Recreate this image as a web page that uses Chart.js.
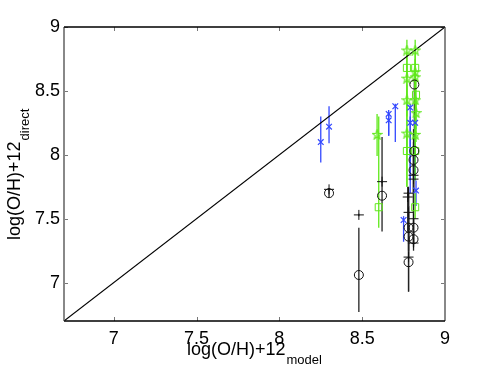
<!DOCTYPE html>
<html>
<head>
<meta charset="utf-8">
<script src="https://cdn.jsdelivr.net/npm/chart.js@4"></script>
<style>
html,body{margin:0;padding:0;background:#fff;}
canvas{display:block;}
</style>
</head>
<body>
<canvas id="c" width="491" height="369"></canvas>
<script>
// axis range and tick labels
const axisMin = 6.7, axisMax = 9;
const tickValues = [7, 7.5, 8, 8.5, 9];

// Black circles: x, y, error low, error high
const circX  = [8.30, 8.48, 8.62, 8.78, 8.78, 8.78, 8.815, 8.815, 8.81, 8.81, 8.81, 8.81];
const circY  = [7.70, 7.06, 7.68, 7.16, 7.43, 7.36, 8.55, 8.03, 7.96, 7.88, 7.43, 7.34];
const circLo = [7.67, 6.77, 7.40, 6.93, 7.25, 7.20, 8.00, 7.85, 7.70, 7.60, 7.30, 7.25];
const circHi = [7.74, 7.43, 8.14, 7.41, 7.60, 7.55, 8.58, 8.20, 8.20, 8.10, 7.60, 7.50];

// Black plus markers
const plusX  = [8.30, 8.48, 8.62, 8.78, 8.775, 8.78, 8.81, 8.81, 8.81, 8.81, 8.78];
const plusY  = [7.73, 7.53, 7.79, 7.70, 7.67, 7.55, 7.84, 7.81, 7.50, 7.31, 7.20];
const plusLo = [7.72, 7.52, 7.78, 7.40, 7.40, 7.30, 7.60, 7.60, 7.30, 7.28, 6.93];
const plusHi = [7.74, 7.54, 7.80, 7.75, 7.75, 7.70, 8.00, 8.00, 7.60, 7.40, 7.40];

// Blue x markers
const xX  = [8.25, 8.30, 8.66, 8.66, 8.70, 8.75, 8.79, 8.79, 8.82, 8.825];
const xY  = [8.10, 8.22, 8.32, 8.27, 8.38, 7.49, 8.37, 8.25, 8.25, 7.72];
const xLo = [7.94, 8.09, 8.15, 8.15, 8.10, 7.32, 7.80, 7.70, 7.80, 7.60];
const xHi = [8.30, 8.38, 8.35, 8.33, 8.40, 7.52, 8.40, 8.30, 8.30, 7.80];

// Green stars
const starX  = [8.59, 8.77, 8.77, 8.77, 8.77, 8.82, 8.82, 8.82, 8.82, 8.825, 8.82];
const starY  = [8.16, 8.82, 8.60, 8.43, 8.17, 8.82, 8.65, 8.61, 8.43, 8.33, 8.16];
const starLo = [7.99, 8.60, 8.30, 8.00, 7.75, 8.60, 8.40, 8.40, 8.20, 8.10, 8.00];
const starHi = [8.32, 8.90, 8.70, 8.55, 8.40, 8.90, 8.75, 8.70, 8.55, 8.45, 8.30];

// Green squares
const sqX  = [8.60, 8.77, 8.77, 8.82, 8.825, 8.82, 8.82];
const sqY  = [7.59, 8.68, 8.03, 8.68, 8.47, 8.03, 7.59];
const sqLo = [7.43, 8.40, 7.75, 8.50, 8.20, 7.80, 7.50];
const sqHi = [8.30, 8.80, 8.20, 8.80, 8.60, 8.20, 7.70];

const BLACK = '#111111', BLUE = '#3348ff', GREEN = '#5fe81a';

function pts(xs, ys, lo, hi){ return xs.map((x,i)=>({x:x, y:ys[i], lo:lo[i], hi:hi[i]})); }

function starImage(color){
  const s = 11, c = document.createElement('canvas');
  c.width = s; c.height = s;
  const g = c.getContext('2d');
  g.strokeStyle = color; g.lineWidth = 1.1;
  g.beginPath();
  const cx = s/2, cy = s/2+0.5, R = 5, r = 2;
  for (let i=0;i<10;i++){
    const a = -Math.PI/2 + i*Math.PI/5;
    const rr = i%2===0 ? R : r;
    const px = cx + rr*Math.cos(a), py = cy + rr*Math.sin(a);
    if(i===0) g.moveTo(px,py); else g.lineTo(px,py);
  }
  g.closePath(); g.stroke();
  return c;
}

const errPlugin = {
  id:'errbars',
  beforeDatasetsDraw(chart){
    const ctx = chart.ctx, xs = chart.scales.x, ys = chart.scales.y;
    ctx.save();
    chart.data.datasets.forEach(ds=>{
      if(!ds.errColor) return;
      ctx.strokeStyle = ds.errColor; ctx.lineWidth = 1.3;
      ds.data.forEach(p=>{
        const px = xs.getPixelForValue(p.x);
        ctx.beginPath();
        ctx.moveTo(px, ys.getPixelForValue(p.lo));
        ctx.lineTo(px, ys.getPixelForValue(p.hi));
        ctx.stroke();
      });
    });
    ctx.restore();
  },
  afterDraw(chart){
    const ctx = chart.ctx, a = chart.chartArea, xs = chart.scales.x, ys = chart.scales.y;
    ctx.save();
    // ticks inward
    ctx.strokeStyle = '#777'; ctx.lineWidth = 1;
    tickValues.forEach(v=>{
      const px = Math.round(xs.getPixelForValue(v))+0.5;
      ctx.beginPath(); ctx.moveTo(px,a.bottom); ctx.lineTo(px,a.bottom-4);
      ctx.moveTo(px,a.top); ctx.lineTo(px,a.top+4); ctx.stroke();
      const py = Math.round(ys.getPixelForValue(v))+0.5;
      ctx.beginPath(); ctx.moveTo(a.left,py); ctx.lineTo(a.left+4,py);
      ctx.moveTo(a.right,py); ctx.lineTo(a.right-4,py); ctx.stroke();
    });
    // frame
    ctx.strokeStyle = '#888'; ctx.lineWidth = 2;
    ctx.beginPath(); ctx.moveTo(a.left,a.top); ctx.lineTo(a.left,a.bottom);
    ctx.moveTo(a.right,a.top); ctx.lineTo(a.right,a.bottom); ctx.stroke();
    ctx.strokeStyle = '#000'; ctx.lineWidth = 1.3;
    ctx.beginPath(); ctx.moveTo(a.left,a.top); ctx.lineTo(a.right,a.top);
    ctx.moveTo(a.left,a.bottom); ctx.lineTo(a.right,a.bottom); ctx.stroke();
    // axis titles
    ctx.fillStyle = '#000';
    ctx.textBaseline = 'alphabetic'; ctx.textAlign = 'left';
    ctx.font = '18px "Liberation Sans", Arial, sans-serif';
    const main = 'log(O/H)+12';
    const w = ctx.measureText(main).width;
    ctx.fillText(main, 187, 355);
    ctx.font = '13px "Liberation Sans", Arial, sans-serif';
    ctx.fillText('model', 187 + w + 1, 364);
    ctx.save();
    ctx.translate(20, 240); ctx.rotate(-Math.PI/2);
    ctx.font = '18px "Liberation Sans", Arial, sans-serif';
    ctx.fillText(main, 0, 0);
    ctx.font = '13px "Liberation Sans", Arial, sans-serif';
    ctx.fillText('direct', w + 1, 9);
    ctx.restore();
    ctx.restore();
  }
};

new Chart(document.getElementById('c'), {
  type:'scatter',
  data:{datasets:[
    {type:'line', data:[{x:axisMin,y:axisMin},{x:axisMax,y:axisMax}], borderColor:'#000', borderWidth:1.1, pointRadius:0, order:10},
    {data:pts(circX,circY,circLo,circHi), errColor:'#222', pointStyle:'circle', radius:4.5, borderColor:BLACK, backgroundColor:'rgba(0,0,0,0)', borderWidth:1},
    {data:pts(plusX,plusY,plusLo,plusHi), errColor:'#222', pointStyle:'cross', radius:5, borderColor:BLACK, borderWidth:1},
    {data:pts(xX,xY,xLo,xHi), errColor:BLUE, pointStyle:'crossRot', radius:4, borderColor:BLUE, borderWidth:1.2},
    {data:pts(starX,starY,starLo,starHi), errColor:GREEN, pointStyle:starImage(GREEN), radius:5, borderColor:GREEN},
    {data:pts(sqX,sqY,sqLo,sqHi), errColor:GREEN, pointStyle:'rect', radius:5, borderColor:GREEN, backgroundColor:'rgba(0,0,0,0)', borderWidth:1}
  ]},
  options:{
    responsive:false, animation:false, devicePixelRatio:1,
    layout:{padding:{left:0, top:27, right:46, bottom:0}},
    plugins:{legend:{display:false}, tooltip:{enabled:false}},
    scales:{
      x:{type:'linear', min:axisMin, max:axisMax,
         afterFit(s){ s.height = 48; },
         afterBuildTicks(s){ s.ticks = tickValues.map(v=>({value:v})); },
         grid:{display:false, drawTicks:false, tickLength:0}, border:{display:false},
         ticks:{color:'#000', padding:7, font:{family:'"Liberation Sans", Arial, sans-serif', size:18}, callback:v=>String(v)}},
      y:{type:'linear', min:axisMin, max:axisMax,
         afterFit(s){ s.width = 64; },
         afterBuildTicks(s){ s.ticks = tickValues.map(v=>({value:v})); },
         grid:{display:false, drawTicks:false, tickLength:0}, border:{display:false},
         ticks:{color:'#000', padding:4, font:{family:'"Liberation Sans", Arial, sans-serif', size:18}, callback:v=>String(v)}}
    }
  },
  plugins:[errPlugin]
});
</script>
</body>
</html>
